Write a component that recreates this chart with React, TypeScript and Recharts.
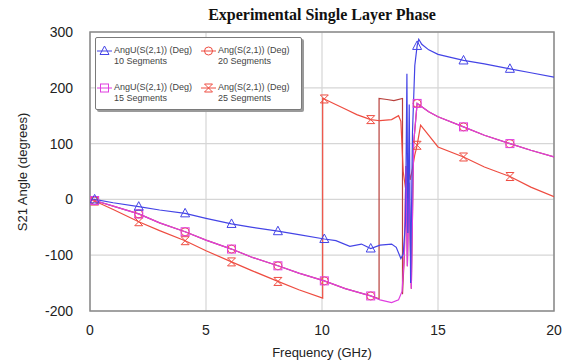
import React from 'react';
import {
  LineChart, Line, XAxis, YAxis, CartesianGrid, ReferenceArea, Legend,
} from 'recharts';

// ---- data ----
const X_TICKS = [0, 5, 10, 15, 20];
const Y_TICKS = [-200, -100, 0, 100, 200, 300];
const MARK_F = [0.2, 2.1, 4.1, 6.1, 8.1, 10.1, 12.1, 14.1, 16.1, 18.1];

const F_BLUE = [0, 0.2, 1, 2.1, 3, 4.1, 5, 6.1, 7, 8.1, 9, 10.1, 10.6, 11.2, 11.7, 12.1, 12.5, 13.0, 13.2, 13.4, 13.5, 13.6, 13.66, 13.7, 13.76, 13.82, 13.9, 14.0, 14.1, 14.17, 14.3, 14.6, 15, 15.5, 16.1, 17, 18.1, 19, 20];
const V_BLUE = [0, 0, -6, -13, -19, -25, -34, -44, -50, -57, -63, -71, -74, -84, -80, -88, -82, -80, -86, -106, -98, -40, 225, -60, 170, -150, 120, 240, 275, 287, 278, 268, 260, 255, 249, 243, 234, 227, 219];

const F_MAG = [0, 0.2, 1, 2.1, 3, 4.1, 5, 6.1, 7, 8.1, 9, 10.1, 11, 12.1, 12.5, 13.0, 13.3, 13.45, 13.55, 13.62, 13.68, 13.75, 13.85, 13.95, 14.1, 14.3, 14.6, 15, 16.1, 17, 18.1, 19, 20];
const V_MAG = [0, -2, -12, -26, -42, -58, -73, -89, -104, -119, -132, -146, -160, -173, -180, -185, -180, -165, -100, 60, -120, 30, -160, 100, 172, 166, 157, 148, 130, 115, 100, 88, 76];

const F_R20 = [0, 0.2, 1, 2.1, 3, 4.1, 5, 6.1, 7, 8.1, 9, 10.1, 11, 12.1, 12.46, 12.46, 12.8, 13.1, 13.47, 13.47, 13.55, 13.62, 13.68, 13.75, 13.85, 13.95, 14.1, 14.3, 14.6, 15, 16.1, 17, 18.1, 19, 20];
const V_R20 = [0, -2, -12, -26, -42, -58, -73, -89, -104, -119, -132, -146, -160, -173, -178, 181, 179, 177, 181, -170, -100, 60, -120, 30, -160, 100, 172, 166, 157, 148, 130, 115, 100, 88, 76];

const F_R25 = [0, 0.2, 1, 2.1, 3, 4.1, 5, 6.1, 7, 8.1, 9, 10.03, 10.03, 10.1, 10.5, 11, 11.5, 12.1, 12.5, 13.0, 13.3, 13.4, 13.5, 13.6, 13.7, 13.8, 13.9, 14.0, 14.1, 14.25, 14.5, 15, 16.1, 17, 18.1, 19, 20];
const V_R25 = [0, -3, -18, -40, -56, -74, -92, -112, -128, -147, -162, -177, 181, 180, 172, 162, 152, 143, 141, 143, 150, 140, 50, 20, 70, 35, 55, 80, 97, 133, 120, 94, 76, 58, 41, 22, 5];

const NAMES = ['AngU(S(2,1)) (Deg)', 'Ang(S(2,1)) (Deg)', 'AngU(S(2,1)) (Deg)', 'Ang(S(2,1)) (Deg)'];
const SUBS = ['10 Segments', '20 Segments', '15 Segments', '25 Segments'];

const C_BLUE = '#4444e6';
const C_MAG = '#e03ee0';
const C_R20 = '#b8403c';
const C_R25 = '#ee4c40';

const build = (F: number[], V: number[]) => F.map((f, i) => ({ f, v: V[i] }));
const D_BLUE = build(F_BLUE, V_BLUE);
const D_MAG = build(F_MAG, V_MAG);
const D_R20 = build(F_R20, V_R20);
const D_R25 = build(F_R25, V_R25);

type Shape = 'tri' | 'sq' | 'circ' | 'hour';

const Marker = ({ shape, cx, cy, color }: { shape: Shape; cx: number; cy: number; color: string }) => {
  const s = 4;
  if (shape === 'tri')
    return <path d={`M${cx},${cy - 5} L${cx + 4.5},${cy + 3.5} L${cx - 4.5},${cy + 3.5} Z`} fill="none" stroke={color} strokeWidth={1} />;
  if (shape === 'sq')
    return <rect x={cx - s} y={cy - s} width={2 * s} height={2 * s} fill="none" stroke={color} strokeWidth={1} />;
  if (shape === 'circ')
    return <circle cx={cx} cy={cy} r={s} fill="none" stroke={color} strokeWidth={1} />;
  return <path d={`M${cx - s},${cy - s} L${cx + s},${cy - s} L${cx - s},${cy + s} L${cx + s},${cy + s} Z`} fill="none" stroke={color} strokeWidth={1} />;
};

const makeDot = (shape: Shape, color: string) => (props: any) => {
  const { cx, cy, payload, index } = props;
  const isMark = payload && MARK_F.some((m) => Math.abs(m - payload.f) < 1e-6);
  if (!isMark || cx == null || cy == null) return <g key={`e${index}`} />;
  return (
    <g key={`m${index}`}>
      <Marker shape={shape} cx={cx} cy={cy} color={color} />
    </g>
  );
};

const LEG = [
  { shape: 'tri' as Shape, color: C_BLUE, x: 0, y: 0, i: 0 },
  { shape: 'circ' as Shape, color: C_R25, x: 104, y: 0, i: 1 },
  { shape: 'sq' as Shape, color: C_MAG, x: 0, y: 37, i: 2 },
  { shape: 'hour' as Shape, color: C_R25, x: 104, y: 37, i: 3 },
];

const LegendBox = () => (
  <div
    style={{
      position: 'relative',
      width: 205,
      height: 71,
      background: '#fff',
      border: '1px solid #7a7a7a',
      borderRadius: 2,
      boxShadow: '2px 2px 0 #9a9a9a',
      fontFamily: '"Liberation Sans", Arial, sans-serif',
      fontSize: 9,
      color: '#444',
      lineHeight: '11px',
    }}
  >
    {LEG.map((l) => (
      <div key={l.i} style={{ position: 'absolute', left: l.x, top: l.y + 7 }}>
        <svg width={18} height={12} style={{ position: 'absolute', left: 0, top: 0 }}>
          <line x1={1} y1={6} x2={16} y2={6} stroke={l.color} strokeWidth={1} />
          <Marker shape={l.shape} cx={8.5} cy={6} color={l.color} />
        </svg>
        <div style={{ position: 'absolute', left: 18, top: 0, whiteSpace: 'nowrap' }}>{NAMES[l.i]}</div>
        <div style={{ position: 'absolute', left: 18, top: 11, whiteSpace: 'nowrap' }}>{SUBS[l.i]}</div>
      </div>
    ))}
  </div>
);

const tickStyle = { fontFamily: '"Liberation Sans", Arial, sans-serif', fontSize: 14, fill: '#222' };

export default function App() {
  return (
    <div style={{ position: 'absolute', left: 0, top: 0, width: 571, height: 364, background: '#fff' }}>
      <LineChart width={571} height={364} margin={{ top: 32, right: 17, left: 0, bottom: 0 }}>
        <CartesianGrid stroke="#d6d6d6" strokeWidth={1.2} />
        <XAxis
          type="number"
          dataKey="f"
          domain={[0, 20]}
          ticks={X_TICKS}
          allowDataOverflow
          axisLine={false}
          tickLine={false}
          tickSize={0}
          tickMargin={14}
          height={53}
          tick={tickStyle}
        />
        <YAxis
          type="number"
          domain={[-200, 300]}
          ticks={Y_TICKS}
          allowDataOverflow
          axisLine={false}
          tickLine={false}
          tickSize={0}
          tickMargin={17}
          width={90}
          tick={tickStyle}
        />
        <ReferenceArea x1={0} x2={20} y1={-200} y2={300} fill="none" fillOpacity={0} stroke="#8a8a8a" strokeWidth={1.5} />
        <Line data={D_R20} dataKey="v" stroke={C_R20} strokeWidth={1.2} dot={makeDot('circ', C_R25)} isAnimationActive={false} />
        <Line data={D_R25} dataKey="v" stroke={C_R25} strokeWidth={1.2} dot={makeDot('hour', C_R25)} isAnimationActive={false} />
        <Line data={D_MAG} dataKey="v" stroke={C_MAG} strokeWidth={1.2} dot={makeDot('sq', C_MAG)} isAnimationActive={false} />
        <Line data={D_BLUE} dataKey="v" stroke={C_BLUE} strokeWidth={1.2} dot={makeDot('tri', C_BLUE)} isAnimationActive={false} />
        <Legend
          layout="vertical"
          align="center"
          verticalAlign="middle"
          wrapperStyle={{ left: 95, top: 37, width: 207, height: 73 }}
          content={() => <LegendBox />}
        />
        <text x={322} y={20} textAnchor="middle" fontFamily='"Liberation Serif", "Times New Roman", serif' fontWeight="bold" fontSize={16} fill="#111">
          Experimental Single Layer Phase
        </text>
        <text x={322} y={357} textAnchor="middle" fontFamily='"Liberation Sans", Arial, sans-serif' fontSize={13} fill="#222">
          Frequency (GHz)
        </text>
        <text
          x={0}
          y={0}
          transform="translate(27,172) rotate(-90)"
          textAnchor="middle"
          fontFamily='"Liberation Sans", Arial, sans-serif'
          fontSize={13}
          fill="#222"
        >
          S21 Angle (degrees)
        </text>
      </LineChart>
    </div>
  );
}
